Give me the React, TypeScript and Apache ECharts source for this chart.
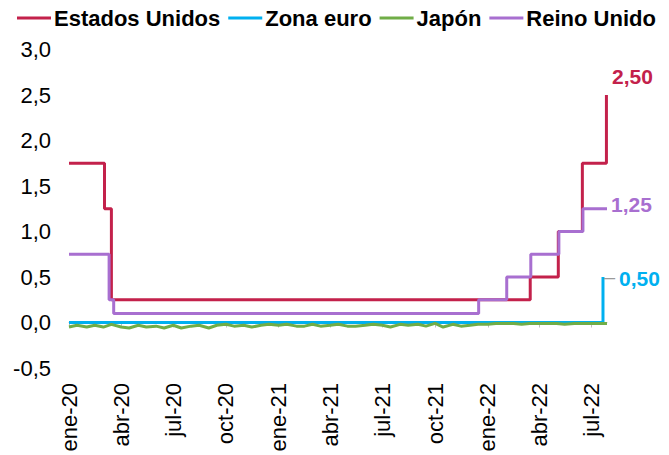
import React, { useEffect, useRef } from "react";
import * as echarts from "echarts";

const START_DATE = "2020-01-01";
const END_DATE = "2022-07-28";
const MONTH_ABBR = ["ene", "feb", "mar", "abr", "may", "jun", "jul", "ago", "sep", "oct", "nov", "dic"];
const QUARTER_MONTHS = ["01", "04", "07", "10"];
const SERIES_NAMES = ["Estados Unidos", "Zona euro", "Japón", "Reino Unido"];
const COLORS = ["#C3214B", "#00B0F0", "#70AD47", "#A86FD0"];

// Policy-rate change points [date, rate]
const usRates: [string, number][] = [
  ["2020-01-01", 1.75],
  ["2020-03-03", 1.25],
  ["2020-03-15", 0.25],
  ["2022-03-16", 0.5],
  ["2022-05-04", 1.0],
  ["2022-06-15", 1.75],
  ["2022-07-27", 2.5],
  ["2022-07-28", 2.5],
];
const euroRates: [string, number][] = [
  ["2020-01-01", 0],
  ["2022-07-21", 0.5],
];
const ukRates: [string, number][] = [
  ["2020-01-01", 0.75],
  ["2020-03-11", 0.25],
  ["2020-03-19", 0.1],
  ["2021-12-16", 0.25],
  ["2022-02-03", 0.5],
  ["2022-03-17", 0.75],
  ["2022-05-05", 1.0],
  ["2022-06-16", 1.25],
  ["2022-07-28", 1.25],
];
const japanRates: [string, number][] = [
  ["2020-01-01", -0.05], ["2020-01-15", -0.03], ["2020-02-01", -0.05], ["2020-02-15", -0.03],
  ["2020-03-01", -0.05], ["2020-03-15", -0.02], ["2020-04-01", -0.05], ["2020-04-15", -0.06],
  ["2020-05-01", -0.03], ["2020-05-15", -0.05], ["2020-06-01", -0.04], ["2020-06-15", -0.06],
  ["2020-07-01", -0.03], ["2020-07-15", -0.06], ["2020-08-01", -0.04], ["2020-08-15", -0.03],
  ["2020-09-01", -0.06], ["2020-09-15", -0.03], ["2020-10-01", -0.02], ["2020-10-15", -0.04],
  ["2020-11-01", -0.03], ["2020-11-15", -0.05], ["2020-12-01", -0.03], ["2020-12-15", -0.02],
  ["2021-01-01", -0.03], ["2021-01-15", -0.02], ["2021-02-01", -0.04], ["2021-02-15", -0.04],
  ["2021-03-01", -0.02], ["2021-03-15", -0.04], ["2021-04-01", -0.03], ["2021-04-15", -0.02],
  ["2021-05-01", -0.04], ["2021-05-15", -0.04], ["2021-06-01", -0.03], ["2021-06-15", -0.02],
  ["2021-07-01", -0.03], ["2021-07-15", -0.05], ["2021-08-01", -0.02], ["2021-08-15", -0.03],
  ["2021-09-01", -0.02], ["2021-09-15", -0.04], ["2021-10-01", -0.01], ["2021-10-15", -0.05],
  ["2021-11-01", -0.02], ["2021-11-15", -0.04], ["2021-12-01", -0.03], ["2021-12-15", -0.02],
  ["2022-01-01", -0.02], ["2022-01-15", -0.01], ["2022-02-01", -0.01], ["2022-02-15", -0.01],
  ["2022-03-01", -0.02], ["2022-03-15", -0.01], ["2022-04-01", -0.01], ["2022-04-15", -0.01],
  ["2022-05-01", -0.01], ["2022-05-15", -0.02], ["2022-06-01", -0.01], ["2022-06-15", -0.01],
  ["2022-07-01", -0.01], ["2022-07-15", -0.01], ["2022-07-28", -0.01],
];
const Y_MIN = -0.5;
const Y_MAX = 3.0;
const Y_STEP = 0.5;

const FONT = "'Liberation Sans', Arial, sans-serif";

function buildDays(start: string, end: string): string[] {
  const out: string[] = [];
  const d = new Date(start + "T00:00:00Z");
  const e = new Date(end + "T00:00:00Z");
  while (d.getTime() <= e.getTime()) {
    out.push(d.toISOString().slice(0, 10));
    d.setUTCDate(d.getUTCDate() + 1);
  }
  return out;
}

const fmt = (v: number, dec: number) => v.toFixed(dec).replace(".", ",");

export default function App() {
  const ref = useRef<HTMLDivElement>(null);
  useEffect(() => {
    if (!ref.current) return;
    const chart = echarts.init(ref.current, undefined, { renderer: "svg" });
    const days = buildDays(START_DATE, END_DATE);
    const isQuarterStart = (_i: number, v: string) =>
      v.slice(8, 10) === "01" && QUARTER_MONTHS.includes(v.slice(5, 7));

    const lastVal = (p: any) => {
      const v = Array.isArray(p.value) ? p.value[1] : p.value;
      return fmt(Number(v), 2);
    };
    const labelBase = { show: true, fontFamily: FONT, fontWeight: "bold", fontSize: 21 };

    const option: any = {
      animation: false,
      textStyle: { fontFamily: FONT },
      legend: {
        top: 7,
        left: 17,
        padding: 0,
        width: 652,
        icon: "rect",
        itemWidth: 34,
        itemHeight: 3,
        itemGap: 8,
        textStyle: { fontFamily: FONT, fontWeight: "bold", fontSize: 22, color: "#000", padding: [0, 0, 0, -2] },
        data: SERIES_NAMES,
      },
      grid: { left: 69, right: 62, top: 49.5, bottom: 87, containLabel: false },
      xAxis: [
        {
          type: "category",
          data: days,
          boundaryGap: false,
          position: "bottom",
          axisLine: { show: true, onZero: true, lineStyle: { color: "#BFBFBF", width: 1 } },
          axisTick: { show: true, interval: isQuarterStart, length: 5, lineStyle: { color: "#BFBFBF" } },
          axisLabel: { show: false },
          splitLine: { show: false },
        },
        {
          type: "category",
          data: days,
          boundaryGap: false,
          position: "bottom",
          axisLine: { show: false, onZero: false },
          axisTick: { show: false },
          axisLabel: {
            show: true,
            interval: isQuarterStart,
            rotate: 90,
            margin: 15,
            fontFamily: FONT,
            fontSize: 22,
            color: "#000",
            formatter: (v: string) => MONTH_ABBR[parseInt(v.slice(5, 7), 10) - 1] + "-" + v.slice(2, 4),
          },
          splitLine: { show: false },
        },
      ],
      yAxis: {
        type: "value",
        min: Y_MIN,
        max: Y_MAX,
        interval: Y_STEP,
        axisLine: { show: false },
        axisTick: { show: false },
        splitLine: { show: false },
        axisLabel: {
          margin: 18,
          fontFamily: FONT,
          fontSize: 22,
          color: "#000",
          formatter: (v: number) => fmt(v, 1),
        },
      },
      series: [
        {
          name: SERIES_NAMES[0],
          type: "line",
          step: "end",
          showSymbol: false,
          symbol: "none",
          color: COLORS[0],
          lineStyle: { width: 3, color: COLORS[0] },
          data: usRates,
          endLabel: {
            ...labelBase,
            distance: 5,
            offset: [0, -19],
            color: COLORS[0],
            formatter: lastVal,
          },
        },
        {
          name: SERIES_NAMES[1],
          type: "line",
          step: "end",
          showSymbol: false,
          symbol: "none",
          color: COLORS[1],
          lineStyle: { width: 3, color: COLORS[1] },
          data: euroRates,
          endLabel: {
            ...labelBase,
            distance: 1,
            offset: [0, 1],
            color: COLORS[1],
            formatter: (p: any) => "{lead|\u2013}{txt|" + lastVal(p) + "}",
            rich: {
              lead: {
                fontFamily: FONT,
                fontWeight: "normal",
                fontSize: 20,
                color: "#9A9A9A",
                verticalAlign: "middle",
                padding: [0, 0, 2, 0],
              },
              txt: { fontFamily: FONT, fontWeight: "bold", fontSize: 21, color: COLORS[1], padding: [0, 0, 0, 4] },
            },
          },
        },
        {
          name: SERIES_NAMES[2],
          type: "line",
          showSymbol: false,
          symbol: "none",
          color: COLORS[2],
          lineStyle: { width: 3, color: COLORS[2] },
          data: japanRates,
        },
        {
          name: SERIES_NAMES[3],
          type: "line",
          step: "end",
          showSymbol: false,
          symbol: "none",
          color: COLORS[3],
          lineStyle: { width: 3, color: COLORS[3] },
          data: ukRates,
          endLabel: {
            ...labelBase,
            distance: 4,
            offset: [0, -4],
            color: COLORS[3],
            formatter: lastVal,
          },
        },
      ],
    };
    chart.setOption(option);
    return () => chart.dispose();
  }, []);
  return (
    <div
      ref={ref}
      style={{ position: "absolute", left: 0, top: 0, width: 669, height: 455, background: "#fff" }}
    />
  );
}
